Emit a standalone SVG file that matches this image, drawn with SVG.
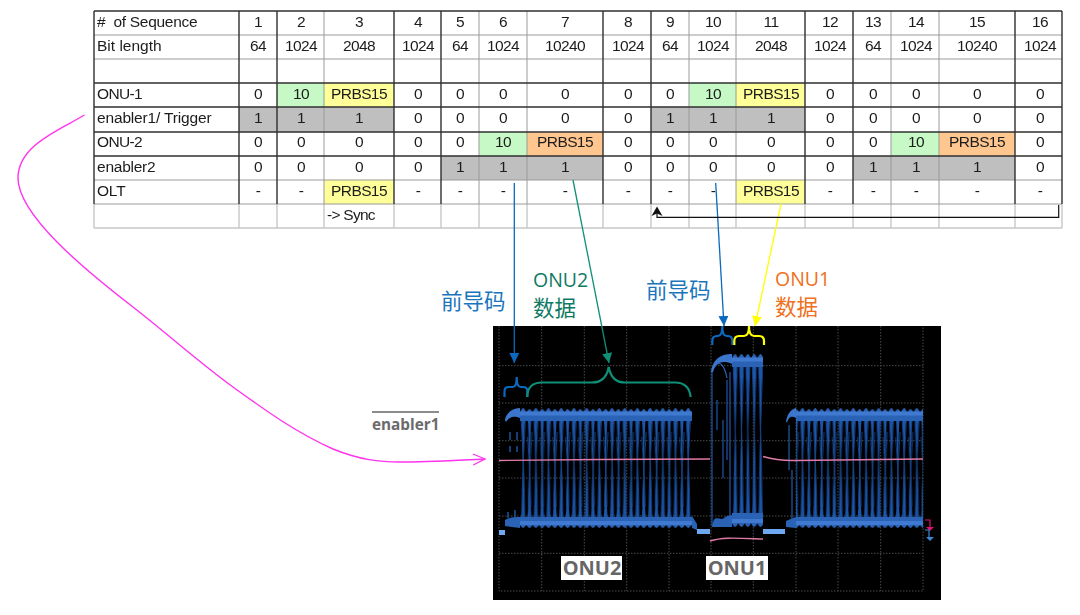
<svg xmlns="http://www.w3.org/2000/svg" width="1080" height="615" viewBox="0 0 1080 615">
<style>
.t{font-family:"Liberation Sans",Arial,sans-serif;font-size:15.5px;letter-spacing:-.6px;fill:#1c1c1c;text-anchor:middle}
.l{text-anchor:start;white-space:pre}
.d{stroke:#303030;stroke-width:1.4;fill:none}
.g{stroke:#9a9a9a;stroke-width:1;fill:none}
.lg{stroke:#c8c8c8;stroke-width:1.4;fill:none}
.gn{fill:#c6f9c6}.ye{fill:#ffff99}.or{fill:#ffc68f}.gy{fill:#bfbfbf}
.grid{stroke:#4a4a4a;stroke-width:1;stroke-dasharray:1.5 1.5;fill:none}
.cj{font-family:"Noto Sans CJK SC",sans-serif;font-size:21.5px}
.op{font-family:"Open Sans","Noto Sans",sans-serif;font-size:19.5px}
.lb{font-family:"Open Sans","Noto Sans",sans-serif;font-weight:700;font-size:20px;fill:#666;text-anchor:middle}
.br{fill:none;stroke-width:2.2}
</style>
<defs>
<pattern id="s1" patternUnits="userSpaceOnUse" x="520" y="407" width="12.7" height="121">
<path d="M0 8C2 8 2.400 30 2.800 60C2.400 90 2 113 0 113L6.350 113C4.500 113 3.900 90 3.600 60C3.900 30 4.500 8 6.350 8C8.400 8 8.800 30 9.100 60C8.800 90 8.400 113 6.350 113L12.700 113C10.800 113 10.200 90 10 60C10.200 30 10.800 8 12.700 8Z" fill="#1d56aa"/>
<path d="M1 10C2.500 40 5 80 4.700 112M5.500 10C4 40 1.500 80 2 112M7.500 30C9 55 11 80 10.800 100M11.800 25C10.500 55 8 80 8.300 100" fill="none" stroke="#154288" stroke-width="0.9"/>
<path d="M0 6C1 2 3 1 3.200 1C3.400 1 5 2 6.350 6C7.400 3 9 2 9.500 2C10 2 11.500 3 12.700 6V14H0ZM0 110H12.700V118C11.500 120 10 121 9.500 121C9 121 7.400 120 6.350 118C5 120 3.400 121 3.200 121C3 121 1 120 0 118Z" fill="#2a62b6"/>
<path d="M0 4.500H12.700V8.500H0ZM0 114H12.700V118H0Z" fill="#4079d0"/>
</pattern>
<pattern id="s2" patternUnits="userSpaceOnUse" x="732" y="353" width="6.35" height="174">
<path d="M0 8C2 8 2.400 40 2.800 87C2.400 130 2 166 0 166L6.350 166C4.500 166 3.900 130 3.600 87C3.900 40 4.500 8 6.350 8Z" fill="#1d56aa"/>
<path d="M1 10C2.500 50 5 120 4.700 165M5.500 10C4 50 1.500 120 2 165" fill="none" stroke="#154288" stroke-width="0.9"/>
<path d="M0 6C1 2 3 1 3.200 1C3.400 1 5 2 6.350 6V14H0ZM0 160H6.350V170C5 173 3.400 174 3.200 174C3 174 1 173 0 170Z" fill="#2a62b6"/>
<path d="M0 4.500H6.350V8.500H0ZM0 166H6.350V170H0Z" fill="#4079d0"/>
</pattern>
<filter id="b" x="-5%" y="-5%" width="110%" height="110%"><feGaussianBlur stdDeviation="0.45"/></filter>
<filter id="s" x="-1%" y="-1%" width="102%" height="102%"><feGaussianBlur stdDeviation="0.3"/></filter>
<marker id="mk" markerUnits="userSpaceOnUse" markerWidth="16" markerHeight="16" refX="13" refY="8" orient="auto"><path d="M1 2.500L13 8L1 13.500" fill="none" stroke="#ff33ee" stroke-width="1.300"/></marker>
<marker id="ab" markerUnits="userSpaceOnUse" markerWidth="12" markerHeight="14" refX="10" refY="6" orient="auto"><path d="M0 1L10 6L0 11Z" fill="#0a68bd"/></marker>
<marker id="at" markerUnits="userSpaceOnUse" markerWidth="12" markerHeight="14" refX="10" refY="6" orient="auto"><path d="M0 1L10 6L0 11Z" fill="#0f8f78"/></marker>
<marker id="ay" markerUnits="userSpaceOnUse" markerWidth="12" markerHeight="14" refX="10" refY="6" orient="auto"><path d="M0 1L10 6L0 11Z" fill="#ffff00"/></marker>
</defs>

<g id="table" filter="url(#s)">
<rect x="94" y="11" width="968" height="217" fill="#fff"/>
<g id="cell-fills">
<rect class="gn" x="277" y="83" width="47" height="24"/><rect class="ye" x="324" y="83" width="70" height="24"/>
<rect class="gn" x="689" y="83" width="47" height="24"/><rect class="ye" x="736" y="83" width="69" height="24"/>
<rect class="gy" x="239" y="107" width="155" height="25"/><rect class="gy" x="651" y="107" width="154" height="25"/>
<rect class="gn" x="479" y="132" width="48" height="24"/><rect class="or" x="527" y="132" width="76" height="24"/>
<rect class="gn" x="891" y="132" width="48" height="24"/><rect class="or" x="939" y="132" width="76" height="24"/>
<rect class="gy" x="441" y="156" width="162" height="24"/><rect class="gy" x="853" y="156" width="162" height="24"/>
<rect class="ye" x="324" y="180" width="70" height="24"/><rect class="ye" x="736" y="180" width="69" height="24"/>
</g>
<path class="lg" d="M94 204V228M239 204V228M277 204V228M324 204V228M394 204V228M441 204V228M479 204V228M527 204V228M603 204V228M651 204V228M689 204V228M736 204V228M805 204V228M853 204V228M891 204V228M939 204V228M1015 204V228M1062 204V228M94 228H1062"/>
<path class="g" d="M94 35H1062M94 59H1062M94 180H1062M94 204H1062M324 11V204M479 11V204M527 11V204M689 11V204M736 11V204M891 11V204M939 11V204"/>
<path class="d" d="M94 11H1062M94 83H1062M94 107H1062M94 132H1062M94 156H1062M94 11V204M239 11V204M277 11V204M394 11V204M441 11V204M603 11V204M651 11V204M805 11V204M853 11V204M1015 11V204M1062 11V204"/>
<g id="row-sequence"><text class="t l" x="97" y="27" textLength="100">#  of Sequence</text><text class="t" x="258" y="27">1</text><text class="t" x="301" y="27">2</text><text class="t" x="359" y="27">3</text><text class="t" x="418" y="27">4</text><text class="t" x="460" y="27">5</text><text class="t" x="503" y="27">6</text><text class="t" x="565" y="27">7</text><text class="t" x="628" y="27">8</text><text class="t" x="670" y="27">9</text><text class="t" x="713" y="27">10</text><text class="t" x="771" y="27">11</text><text class="t" x="830" y="27">12</text><text class="t" x="873" y="27">13</text><text class="t" x="916" y="27">14</text><text class="t" x="977" y="27">15</text><text class="t" x="1040" y="27">16</text></g>
<g id="row-bits"><text class="t l" x="97" y="51" textLength="64">Bit length</text><text class="t" x="258" y="51">64</text><text class="t" x="301" y="51">1024</text><text class="t" x="359" y="51">2048</text><text class="t" x="418" y="51">1024</text><text class="t" x="460" y="51">64</text><text class="t" x="503" y="51">1024</text><text class="t" x="565" y="51">10240</text><text class="t" x="628" y="51">1024</text><text class="t" x="670" y="51">64</text><text class="t" x="713" y="51">1024</text><text class="t" x="771" y="51">2048</text><text class="t" x="830" y="51">1024</text><text class="t" x="873" y="51">64</text><text class="t" x="916" y="51">1024</text><text class="t" x="977" y="51">10240</text><text class="t" x="1040" y="51">1024</text></g>
<g id="row-onu1"><text class="t l" x="97" y="99" textLength="45">ONU-1</text><text class="t" x="258" y="99">0</text><text class="t" x="301" y="99">10</text><text class="t" x="359" y="99">PRBS15</text><text class="t" x="418" y="99">0</text><text class="t" x="460" y="99">0</text><text class="t" x="503" y="99">0</text><text class="t" x="565" y="99">0</text><text class="t" x="628" y="99">0</text><text class="t" x="670" y="99">0</text><text class="t" x="713" y="99">10</text><text class="t" x="771" y="99">PRBS15</text><text class="t" x="830" y="99">0</text><text class="t" x="873" y="99">0</text><text class="t" x="916" y="99">0</text><text class="t" x="977" y="99">0</text><text class="t" x="1040" y="99">0</text></g>
<g id="row-enabler1"><text class="t l" x="97" y="123" textLength="114">enabler1/ Trigger</text><text class="t" x="258" y="123">1</text><text class="t" x="301" y="123">1</text><text class="t" x="359" y="123">1</text><text class="t" x="418" y="123">0</text><text class="t" x="460" y="123">0</text><text class="t" x="503" y="123">0</text><text class="t" x="565" y="123">0</text><text class="t" x="628" y="123">0</text><text class="t" x="670" y="123">1</text><text class="t" x="713" y="123">1</text><text class="t" x="771" y="123">1</text><text class="t" x="830" y="123">0</text><text class="t" x="873" y="123">0</text><text class="t" x="916" y="123">0</text><text class="t" x="977" y="123">0</text><text class="t" x="1040" y="123">0</text></g>
<g id="row-onu2"><text class="t l" x="97" y="147" textLength="45">ONU-2</text><text class="t" x="258" y="147">0</text><text class="t" x="301" y="147">0</text><text class="t" x="359" y="147">0</text><text class="t" x="418" y="147">0</text><text class="t" x="460" y="147">0</text><text class="t" x="503" y="147">10</text><text class="t" x="565" y="147">PRBS15</text><text class="t" x="628" y="147">0</text><text class="t" x="670" y="147">0</text><text class="t" x="713" y="147">0</text><text class="t" x="771" y="147">0</text><text class="t" x="830" y="147">0</text><text class="t" x="873" y="147">0</text><text class="t" x="916" y="147">10</text><text class="t" x="977" y="147">PRBS15</text><text class="t" x="1040" y="147">0</text></g>
<g id="row-enabler2"><text class="t l" x="97" y="172" textLength="58">enabler2</text><text class="t" x="258" y="172">0</text><text class="t" x="301" y="172">0</text><text class="t" x="359" y="172">0</text><text class="t" x="418" y="172">0</text><text class="t" x="460" y="172">1</text><text class="t" x="503" y="172">1</text><text class="t" x="565" y="172">1</text><text class="t" x="628" y="172">0</text><text class="t" x="670" y="172">0</text><text class="t" x="713" y="172">0</text><text class="t" x="771" y="172">0</text><text class="t" x="830" y="172">0</text><text class="t" x="873" y="172">1</text><text class="t" x="916" y="172">1</text><text class="t" x="977" y="172">1</text><text class="t" x="1040" y="172">0</text></g>
<g id="row-olt"><text class="t l" x="97" y="196" textLength="28">OLT</text><text class="t" x="258" y="196">-</text><text class="t" x="301" y="196">-</text><text class="t" x="359" y="196">PRBS15</text><text class="t" x="418" y="196">-</text><text class="t" x="460" y="196">-</text><text class="t" x="503" y="196">-</text><text class="t" x="565" y="196">-</text><text class="t" x="628" y="196">-</text><text class="t" x="670" y="196">-</text><text class="t" x="713" y="196">-</text><text class="t" x="771" y="196">PRBS15</text><text class="t" x="830" y="196">-</text><text class="t" x="873" y="196">-</text><text class="t" x="916" y="196">-</text><text class="t" x="977" y="196">-</text><text class="t" x="1040" y="196">-</text></g>
<text class="t l" x="327" y="220" textLength="48">-&gt; Sync</text>
</g>

<g id="scope">
<rect x="493" y="326" width="448" height="274" fill="#000"/>
<path class="grid" d="M499 326V591H923V326M541.700 326V591M584.300 326V591M626.700 326V591M669 326V591M711 326V591M753.300 326V591M796 326V591M838 326V591M880.700 326V591M499 365.700H923M499 403H923M499 440.700H923M499 478H923M499 516H923M499 553.300H923"/>
<g id="waveforms" filter="url(#b)">
<rect x="520" y="407" width="172" height="121" fill="url(#s1)"/>
<rect x="796" y="407" width="127" height="121" fill="url(#s1)"/>
<rect x="732" y="353" width="31" height="174" fill="url(#s2)"/>
<path d="M505 420C506 412 514 408 520 408V418C514 416 510 416 506 422Z" fill="#3a75cc"/>
<path d="M505 526V520C510 517 515 517 520 517V528Z" fill="#2a62b6"/>
<path d="M510 432V440M510 446V452M517 432V440M517 446V452M508 512V518M515 510V518" stroke="#1f5aa8" stroke-width="1.400"/>
<path d="M786 421C788 412 792 409 796 408V418C792 416 789 416 787 423Z" fill="#3a75cc"/>
<path d="M786 527V521C790 519 793 518 796 517V528Z" fill="#2a62b6"/>
<path d="M789 425V470M792 470V520" stroke="#1f5aa8" stroke-width="1.200"/>
<path d="M711 372C713 358 722 354 732 354V364C723 360 716 362 713 372Z" fill="#3a75cc"/>
<path d="M717 364C721 361 725 368 727 378" fill="none" stroke="#2a62b6" stroke-width="1.200"/>
<path d="M712 372V526M717 400V430M723 420V478M727 380V460M730 372V526" stroke="#1b4f9c" stroke-width="1.300"/>
<path d="M712 527C714 512 720 522 724 518C727 515 730 516 732 515V527Z" fill="#2a62b6"/>
<path d="M692 516V528L697 530V524Z" fill="#2a62b6"/>
<path d="M499 530H505V535H499ZM697 529H710V534H697ZM763 529H785V534H763Z" fill="#6ea8f0"/>
</g>
<g id="traces" fill="none" stroke="#e07aa6" stroke-width="1.400">
<path d="M499 460.500L600 459.500L710 459"/>
<path d="M763 456.500C775 460 782 461 796 460.500L923 459"/>
<path d="M710 541C722 537 735 538 763 539"/>
</g>
<g id="scope-marker" fill="none" stroke-width="1.200"><path d="M925 520H930V528" stroke="#e0116f"/><path d="M926 527H934L930 531Z" fill="#e0116f" stroke="none"/><path d="M925 530H929V538" stroke="#3a87d8"/><path d="M926 537H934L930 541Z" fill="#3a87d8" stroke="none"/></g>
<g id="label-onu2"><rect x="561" y="556" width="61" height="24" fill="#fff"/><text class="lb" x="592" y="575">ONU2</text></g>
<g id="label-onu1"><rect x="706" y="556" width="62" height="24" fill="#fff"/><text class="lb" x="737" y="575">ONU1</text></g>
</g>

<g id="connectors" fill="none">
<path d="M84.500 115C60 130 18 145 18 178C18 215 85 270 133 307C170 336 200 363 233 387C265 410 295 432 333 449C360 460 380 462 400 462C430 462 460 460 485 459" stroke="#ff33ee" stroke-width="1.400" marker-end="url(#mk)"/>
<path d="M514.300 183V363" stroke="#0a68bd" stroke-width="1.300" marker-end="url(#ab)"/>
<path d="M573 180L609 363" stroke="#0f8f78" stroke-width="1.300" marker-end="url(#at)"/>
<path d="M715.700 183L724 326" stroke="#0a68bd" stroke-width="1.300" marker-end="url(#ab)"/>
<path d="M781 204L755 326" stroke="#ffff00" stroke-width="1.300" marker-end="url(#ay)"/>
<path d="M1058.700 205V217.300H657V210" stroke="#111" stroke-width="1.200"/>
<path d="M657 206.500L651.500 216L657 213.500L662.500 216Z" fill="#111"/>
</g>

<g id="braces">
<path class="br" stroke="#0a68bd" d="M504.500 397V391Q504.500 387 509 387H513Q516.700 387 516.700 377Q516.700 387 520.500 387H523Q527.300 387 527.300 391V397"/>
<path class="br" stroke="#0f8f78" d="M527.300 397V396Q528 382.500 542 382.500H592Q606 382.500 608.700 367Q611.400 382.500 625 382.500H675Q689 382.500 690.700 397"/>
<path class="br" stroke="#0a68bd" d="M712.300 345V341Q712.300 336 717 336H718Q722.300 336 722.300 326Q722.300 336 726.500 336H728Q732.300 336 732.300 341V345"/>
<path class="br" stroke="#ffff00" d="M734.300 345V341Q734.300 336 739 336H744Q749 336 749 326Q749 336 754 336H759Q764 336 764 341V345"/>
</g>

<g id="annotations">
<text class="cj" x="441" y="309" fill="#1a75bc">前导码</text>
<text class="op" x="533" y="287" fill="#0f7a64">ONU2</text>
<text class="cj" x="533" y="316" fill="#0f7a64">数据</text>
<text class="cj" x="646" y="298" fill="#1a75bc">前导码</text>
<text class="op" x="775" y="286" fill="#f07020">ONU1</text>
<text class="cj" x="775" y="315" fill="#f07020">数据</text>
<path d="M372 412H439" stroke="#666" stroke-width="1.500"/>
<text x="372" y="430" style="font-family:'Open Sans','Noto Sans',sans-serif;font-weight:700;font-size:15.300px;fill:#6b6b6b">enabler1</text>
</g>
</svg>
